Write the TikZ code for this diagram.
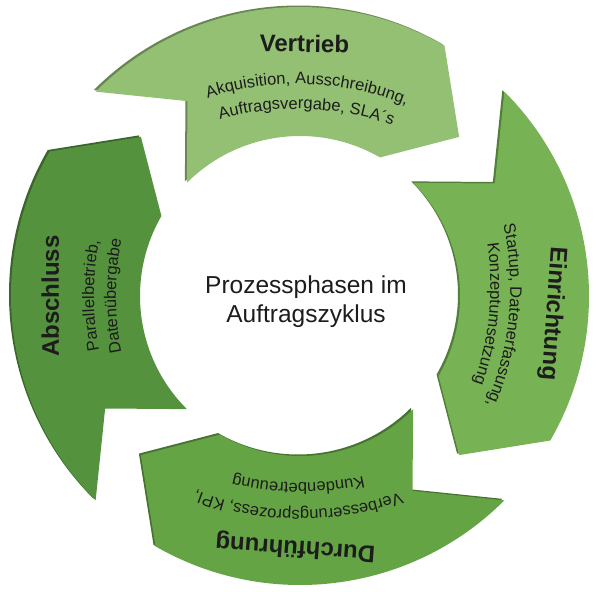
\documentclass[tikz,border=0pt]{standalone}
\usepackage{fontspec}
\setmainfont{Liberation Sans}
\usepackage{tikz}
\usetikzlibrary{calc,decorations.text}
\definecolor{vertriebgreen}{RGB}{148,192,116}
\definecolor{einrichtgreen}{RGB}{119,178,84}
\definecolor{durchgreen}{RGB}{101,164,68}
\definecolor{abschlussgreen}{RGB}{84,146,62}
\definecolor{textgray}{RGB}{28,28,28}
\newcommand{\phasefont}{\fontsize{16.5}{19}\selectfont}
% one phase arrow, drawn in the top position
\newcommand{\phasearrow}{(135:\Ro) arc[start angle=135, end angle=60, radius=\Ro]
  -- (45:\Rm) -- (60:\Ri) arc[start angle=60, end angle=135, radius=\Ri] -- (120:\Rm) -- cycle}
\tikzset{
  phasetitle/.style={font=\bfseries\fontsize{24}{28}\selectfont, text=textgray, anchor=base, inner sep=0pt},
  phaseside/.style={fill=#1!70!black},
  phaseface/.style={fill=#1},
  phaseline/.style={decorate, decoration={text along path, text align=center,
                    text={|\phasefont\color{textgray}|#1}}}
}

\begin{document}
\begin{tikzpicture}[x=1pt,y=1pt]
    \pgfmathsetmacro\Ro{289}
    \pgfmathsetmacro\Ri{160}
    \pgfmathsetmacro\Rm{225}
    \pgfmathsetmacro\Rt{290}

    \useasboundingbox (-300,-295) rectangle (293,296);

      % Draw the four arrows, each with a darker side face.
      \begin{scope}[shift={(-2,1.5)}]
        \fill[phaseside=vertriebgreen] \phasearrow;
      \end{scope}
      \fill[phaseface=vertriebgreen] \phasearrow;

      \begin{scope}[shift={(-2,1.5)},rotate=-90]
        \fill[phaseside=einrichtgreen] \phasearrow;
      \end{scope}
      \begin{scope}[rotate=-90]
        \fill[phaseface=einrichtgreen] \phasearrow;
      \end{scope}

      \begin{scope}[shift={(-2,1.5)},rotate=-180]
        \fill[phaseside=durchgreen] \phasearrow;
      \end{scope}
      \begin{scope}[rotate=-180]
        \fill[phaseface=durchgreen] \phasearrow;
      \end{scope}

      \begin{scope}[shift={(-2,1.5)},rotate=-270]
        \fill[phaseside=abschlussgreen] \phasearrow;
      \end{scope}
      \begin{scope}[rotate=-270]
        \fill[phaseface=abschlussgreen] \phasearrow;
      \end{scope}

      % Phase titles.
      \node[phasetitle, rotate=-1] (vertrieb) at (89:244) {Vertrieb};
      \node[phasetitle, rotate=-94] (einrichtung) at (-4:247) {Einrichtung};
      \node[phasetitle, rotate=176] (durchfuehrung) at (-91:245) {Durchführung};
      \node[phasetitle, rotate=90] (abschluss) at (180:241) {Abschluss};

      % Curved descriptions below the titles.
      \path[phaseline={Akquisition, Ausschreibung,}] ($(88:-78)+(118:\Rt)$) arc[start angle=118, end angle=58, radius=\Rt];
      \path[phaseline={Auftragsvergabe, SLA´s}] ($(88:-103)+(118:\Rt)$) arc[start angle=118, end angle=58, radius=\Rt];

      \path[phaseline={Startup, Datenerfassung,}] ($(-5.5:-80)+(24.5:\Rt)$) arc[start angle=24.5, end angle=-35.5, radius=\Rt];
      \path[phaseline={Konzeptumsetzung}] ($(-5.5:-100)+(24.5:\Rt)$) arc[start angle=24.5, end angle=-35.5, radius=\Rt];

      \path[phaseline={Verbesserungsprozess, KPI,}] ($(-90.5:-76)+(-60.5:\Rt)$) arc[start angle=-60.5, end angle=-120.5, radius=\Rt];
      \path[phaseline={Kundenbetreuung}] ($(-90.5:-103)+(-60.5:\Rt)$) arc[start angle=-60.5, end angle=-120.5, radius=\Rt];

      \path[phaseline={Parallelbetrieb,}] ($(180:-84)+(210:\Rt)$) arc[start angle=210, end angle=150, radius=\Rt];
      \path[phaseline={Datenübergabe}] ($(180:-106)+(210:\Rt)$) arc[start angle=210, end angle=150, radius=\Rt];

      % Label in the middle of the cycle.
      \node[align=center, text=textgray, font=\fontsize{24.5}{29}\selectfont] (mitte) at (6,-6) {Prozessphasen im\\Auftragszyklus};
\end{tikzpicture}
\end{document}
